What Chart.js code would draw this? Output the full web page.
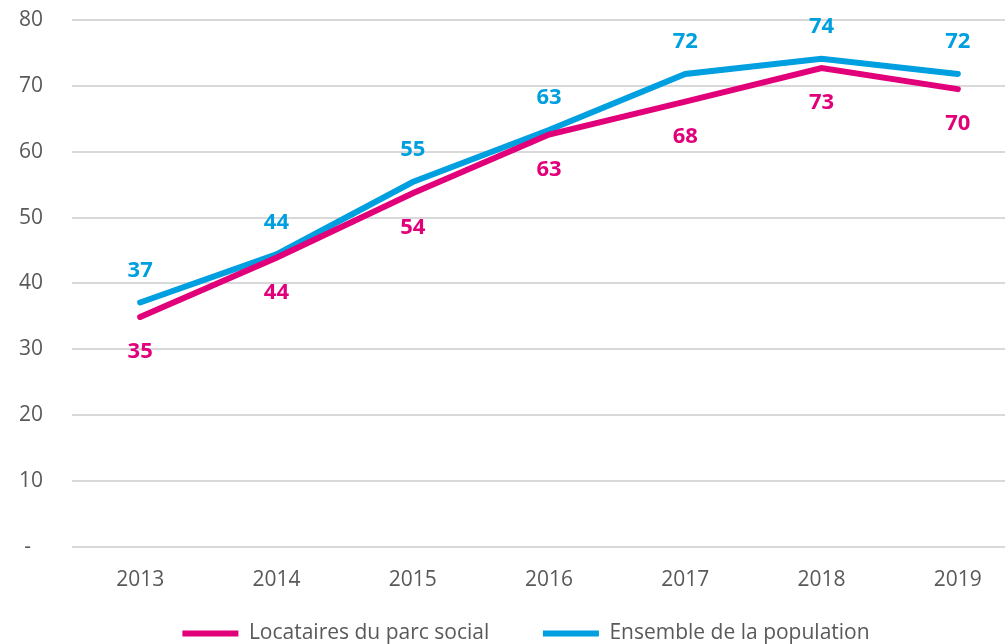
<!DOCTYPE html>
<html>
<head>
<meta charset="utf-8">
<script src="https://cdn.jsdelivr.net/npm/chart.js@4/dist/chart.umd.min.js"></script>
<style>
	html, body { margin: 0; padding: 0; background: #fff; overflow: hidden; }
	#hook { width: 1030px; height: 644px; }
</style>
</head>
<body>
<div id="hook"><canvas id="line"></canvas></div>
<script>
const YEARS = ['2013', '2014', '2015', '2016', '2017', '2018', '2019'];
const LOCATAIRES = [34.9, 43.9, 53.7, 62.6, 67.6, 72.7, 69.5];
const ENSEMBLE = [37.1, 44.4, 55.4, 63.3, 71.8, 74.1, 71.8];
const Y_TICKS = [0, 10, 20, 30, 40, 50, 60, 70, 80];

const PINK = '#E2007A';
const BLUE = '#009FE0';
const FONT = '"Open Sans", sans-serif';

//value labels: blue above the line, pink below
const valueLabels = {
	id: 'valueLabels',
	afterLayout(chart) {
		//nudge the legend right, it sits a little off centre in the original
		chart.legend.left += 13;
		chart.legend.right += 13;
	},
	afterDatasetsDraw(chart) {
		let ctx = chart.ctx;
		ctx.save();
		ctx.font = `bold 22px ${FONT}`;
		ctx.textAlign = 'center';
		ctx.textBaseline = 'middle';
		chart.data.datasets.forEach((ds, i) => {
			let shift = ds.labelPos === 'above' ? -32 : 35;
			ctx.fillStyle = ds.borderColor;
			chart.getDatasetMeta(i).data.forEach((pt, j) =>
				ctx.fillText(Math.round(ds.data[j]), pt.x, pt.y + shift));
		});
		ctx.restore();
	}
};

let ctx = document.querySelector('#line').getContext('2d');

let chart = new Chart(ctx, {
	type: 'line',
	plugins: [valueLabels],
	data: {
		labels: YEARS,
		datasets: [
			{
				label: 'Locataires du parc social',
				data: LOCATAIRES,
				borderColor: PINK,
				backgroundColor: PINK,
				borderWidth: 6,
				borderCapStyle: 'round',
				pointRadius: 0,
				labelPos: 'below'
			},
			{
				label: 'Ensemble de la population',
				data: ENSEMBLE,
				borderColor: BLUE,
				backgroundColor: BLUE,
				borderWidth: 6,
				borderCapStyle: 'round',
				pointRadius: 0,
				labelPos: 'above'
			}
		]
	},
	options: {
		responsive: true,
		maintainAspectRatio: false,
		animation: false,
		layout: { padding: { left: 0, right: 4, top: 20, bottom: -10 } },
		plugins: {
			tooltip: { enabled: false },
			legend: {
				position: 'bottom',
				labels: {
					usePointStyle: true,
					pointStyle: 'line',
					pointStyleWidth: 56,
					padding: 10,
					color: '#595959',
					font: { family: FONT, size: 21 },
					//trailing spaces widen the gap between the two entries
					generateLabels: chart => Chart.defaults.plugins.legend.labels.generateLabels(chart)
						.map((item, i) => i === 0 ? {...item, text: item.text + '        '} : item)
				}
			}
		},
		scales: {
			x: {
				offset: true,
				afterFit: axis => { axis.height += 7; },
				grid: { display: false },
				border: { display: false },
				ticks: {
					color: '#595959',
					padding: 13,
					maxRotation: 0,
					font: { family: FONT, size: 21 }
				}
			},
			y: {
				min: Y_TICKS[0],
				max: Y_TICKS[Y_TICKS.length - 1],
				afterBuildTicks: axis => { axis.ticks = Y_TICKS.map(v => ({value: v})); },
				afterFit: axis => { axis.width = 72; },
				//invisible tick marks keep the labels away from the grid
				grid: { color: '#d9d9d9', lineWidth: 2, drawTicks: true, tickLength: 29, tickColor: 'rgba(0,0,0,0)' },
				border: { display: false },
				ticks: {
					color: '#595959',
					padding: 0,
					font: { family: FONT, size: 21 },
					callback: v => v === 0 ? '-\u2007' : v
				}
			}
		}
	}
});
</script>
</body>
</html>
